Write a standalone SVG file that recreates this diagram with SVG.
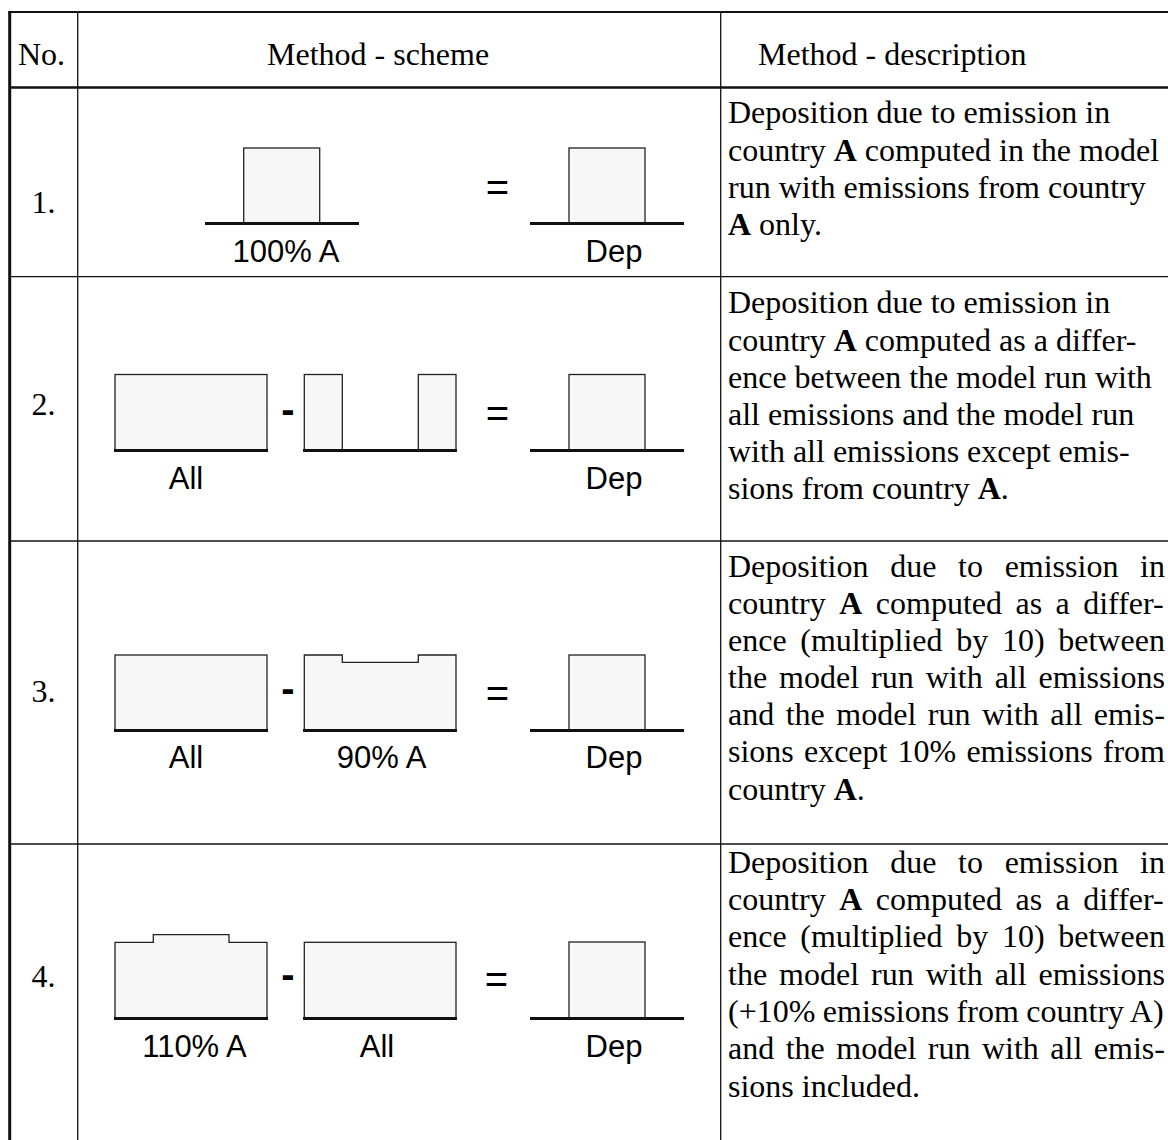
<svg xmlns="http://www.w3.org/2000/svg" width="1168" height="1140" viewBox="0 0 1168 1140">
<style>
.grid{stroke:#111;fill:none}
.box{fill:#f7f7f7;stroke:#222;stroke-width:1.3}
.base{stroke:#111;stroke-width:3;fill:none}
.ser{font-family:"Liberation Serif","Times New Roman",serif;font-size:32px;fill:#000}
.sans{font-family:"Liberation Sans",Arial,sans-serif;font-size:31px;fill:#000;text-anchor:middle}
.op{font-family:"Liberation Sans",Arial,sans-serif;font-size:40px;fill:#000;text-anchor:middle}
.minus{font-family:"Liberation Sans",Arial,sans-serif;font-size:40px;font-weight:bold;fill:#000;text-anchor:middle}
.num{text-anchor:middle}
b,.b{font-weight:bold}
</style>
<rect width="1168" height="1140" fill="#fff"/>
<g id="table">
<line class="grid" x1="8.5" y1="12" x2="1168" y2="12" stroke-width="2"/>
<line class="grid" x1="9.7" y1="11" x2="9.7" y2="1140" stroke-width="3"/>
<line class="grid" x1="9" y1="87.5" x2="1168" y2="87.5" stroke-width="2.5"/>
<line class="grid" x1="77.7" y1="12" x2="77.7" y2="1140" stroke-width="1.3"/>
<line class="grid" x1="720.7" y1="12" x2="720.7" y2="1140" stroke-width="1.3"/>
<line class="grid" x1="9" y1="276.7" x2="1168" y2="276.7" stroke-width="1.3"/>
<line class="grid" x1="9" y1="541" x2="1168" y2="541" stroke-width="1.3"/>
<line class="grid" x1="9" y1="844" x2="1168" y2="844" stroke-width="1.3"/>
</g>
<g id="header">
<text class="ser" x="18" y="65">No.</text>
<text class="ser" x="267" y="65">Method - scheme</text>
<text class="ser" x="758" y="65">Method - description</text>
</g>
<g id="row1">
<text class="ser num" x="43.5" y="212.5">1.</text>
<rect class="box" x="243.7" y="148" width="76" height="75"/>
<line class="base" x1="205" y1="223.5" x2="359" y2="223.5"/>
<text class="sans" x="286" y="262">100% A</text>
<text class="op" x="497.5" y="201">=</text>
<rect class="box" x="569" y="148" width="76" height="75"/>
<line class="base" x1="530" y1="223.5" x2="684" y2="223.5"/>
<text class="sans" x="614" y="262">Dep</text>
<text class="ser" x="728" y="123.3">Deposition due to emission in</text>
<text class="ser" x="728" y="161">country <tspan class="b">A</tspan> computed in the model</text>
<text class="ser" x="728" y="198.3">run with emissions from country</text>
<text class="ser" x="728" y="235"><tspan class="b">A</tspan> only.</text>
</g>
<g id="row2">
<text class="ser num" x="43.5" y="414.5">2.</text>
<rect class="box" x="115" y="374.5" width="152" height="75.5"/>
<line class="base" x1="114" y1="450.5" x2="268" y2="450.5"/>
<text class="sans" x="186" y="489">All</text>
<text class="minus" x="288" y="423">-</text>
<rect class="box" x="304.3" y="374.5" width="38" height="75.5"/>
<rect class="box" x="418.3" y="374.5" width="37.7" height="75.5"/>
<line class="base" x1="303" y1="450.5" x2="457" y2="450.5"/>
<text class="op" x="497.5" y="426.5">=</text>
<rect class="box" x="569" y="374.5" width="76" height="75.5"/>
<line class="base" x1="530" y1="450.5" x2="684" y2="450.5"/>
<text class="sans" x="614" y="489">Dep</text>
<text class="ser" x="728" y="313.3">Deposition due to emission in</text>
<text class="ser" x="728" y="350.7">country <tspan class="b">A</tspan> computed as a differ-</text>
<text class="ser" x="728" y="387.7">ence between the model run with</text>
<text class="ser" x="728" y="425">all emissions and the model run</text>
<text class="ser" x="728" y="461.7">with all emissions except emis-</text>
<text class="ser" x="728" y="499">sions from country <tspan class="b">A</tspan>.</text>
</g>
<g id="row3">
<text class="ser num" x="43.5" y="701.7">3.</text>
<rect class="box" x="115" y="655" width="152" height="75"/>
<line class="base" x1="114" y1="730.5" x2="268" y2="730.5"/>
<text class="sans" x="186" y="768">All</text>
<text class="minus" x="288" y="702.3">-</text>
<path class="box" d="M304.3,730 V655 H342.3 V662.3 H418.3 V655 H456 V730 Z"/>
<line class="base" x1="303" y1="730.5" x2="457" y2="730.5"/>
<text class="sans" x="381.5" y="768">90% A</text>
<text class="op" x="497.5" y="707">=</text>
<rect class="box" x="569" y="655" width="76" height="75"/>
<line class="base" x1="530" y1="730.5" x2="684" y2="730.5"/>
<text class="sans" x="614" y="768">Dep</text>
<text class="ser" x="728" y="577.3" word-spacing="13.7">Deposition due to emission in</text>
<text class="ser" x="728" y="614" word-spacing="5.46">country <tspan class="b">A</tspan> computed as a differ-</text>
<text class="ser" x="728" y="651" word-spacing="5.7">ence (multiplied by 10) between</text>
<text class="ser" x="728" y="688.3" word-spacing="4">the model run with all emissions</text>
<text class="ser" x="728" y="725" word-spacing="3.5">and the model run with all emis-</text>
<text class="ser" x="728" y="762.3" word-spacing="2.15">sions except 10% emissions from</text>
<text class="ser" x="728" y="800">country <tspan class="b">A</tspan>.</text>
</g>
<g id="row4">
<text class="ser num" x="43.5" y="986.7">4.</text>
<path class="box" d="M115,1018 V942.3 H153.3 V934.7 H229 V942.3 H267 V1018 Z"/>
<line class="base" x1="114" y1="1018.5" x2="268" y2="1018.5"/>
<text class="sans" x="194.5" y="1056.5">110% A</text>
<text class="minus" x="288" y="988">-</text>
<rect class="box" x="304.3" y="942.3" width="151.7" height="75.7"/>
<line class="base" x1="303" y1="1018.5" x2="457" y2="1018.5"/>
<text class="sans" x="377" y="1056.5">All</text>
<text class="op" x="496.5" y="992.5">=</text>
<rect class="box" x="569" y="942" width="76" height="76"/>
<line class="base" x1="530" y1="1018.5" x2="684" y2="1018.5"/>
<text class="sans" x="614" y="1056.5">Dep</text>
<text class="ser" x="728" y="873.4" word-spacing="13.7">Deposition due to emission in</text>
<text class="ser" x="728" y="910.3" word-spacing="5.46">country <tspan class="b">A</tspan> computed as a differ-</text>
<text class="ser" x="728" y="947.2" word-spacing="5.7">ence (multiplied by 10) between</text>
<text class="ser" x="728" y="984.6" word-spacing="4">the model run with all emissions</text>
<text class="ser" x="728" y="1021.7" word-spacing="-0.5">(+10% emissions from country A)</text>
<text class="ser" x="728" y="1058.6" word-spacing="3.5">and the model run with all emis-</text>
<text class="ser" x="728" y="1096.5">sions included.</text>
</g>
</svg>
